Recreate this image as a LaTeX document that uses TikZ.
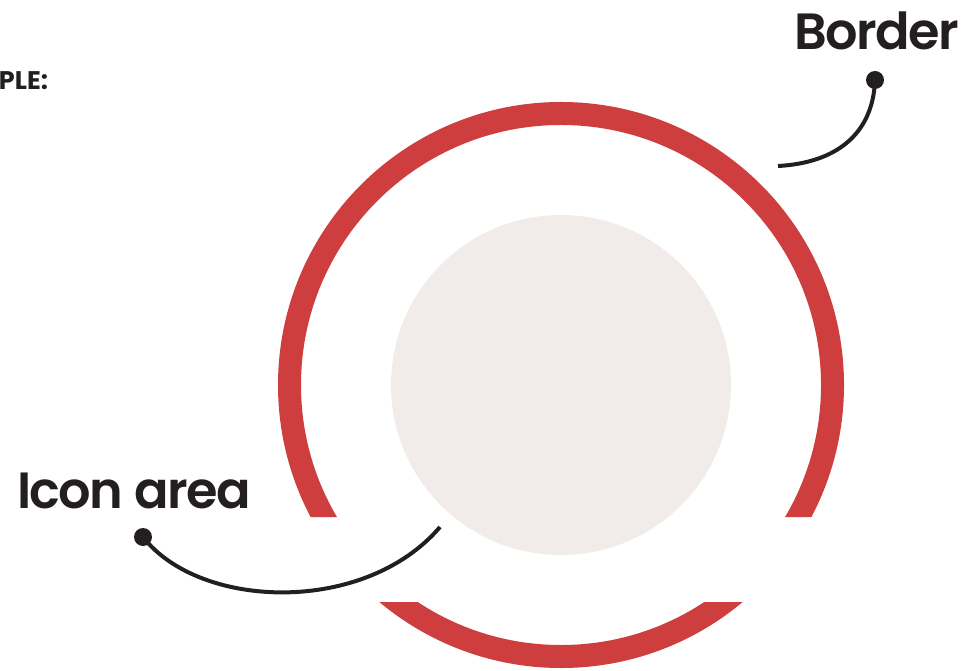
\documentclass[tikz,border=0pt]{standalone}
\usepackage{fontspec}
\setmainfont{Poppins}
\newfontfamily\labelfont[LetterSpace=-3]{Poppins SemiBold}
\usetikzlibrary{positioning}

\definecolor{ringred}{RGB}{206,62,62}
\definecolor{iconbg}{RGB}{241,236,234}
\definecolor{inkblack}{RGB}{35,31,32}

\begin{document}
\begin{tikzpicture}[
			x=0.2mm, y=-0.2mm,
			every node/.style={inner sep=0pt, outer sep=0pt},
			bigtext/.style={font=\labelfont\fontsize{29}{29}\selectfont, text=inkblack},
			smalltext/.style={font=\bfseries\fontsize{14.5}{14.5}\selectfont, text=inkblack},
			dot/.style={circle, fill=inkblack, minimum size=3.6mm},
			leader/.style={draw=inkblack, line width=0.8mm}
			]
			\useasboundingbox (0,0) rectangle (967,671);
			
			% -------- Icon area --------
			\node[circle, fill=iconbg, minimum size=68mm] (icon) at (561,385) {};
			
			% -------- Border ring (cut at the bottom) --------
			\begin{scope}
				\clip (0,0) rectangle (967,517) (0,602) rectangle (967,671);
				\draw[ringred, line width=4.6mm] (icon.center) circle [radius=54.3mm];
			\end{scope}
			
			% -------- Labels --------
			\node[smalltext, anchor=base west] (example) at (-1,90) {PLE:};
			\node[bigtext, anchor=base east] (border) at (959,50) {Border};
			\node[bigtext, anchor=base west] (iconlabel) at (17,508) {Icon area};
			
			% -------- Leaders --------
			\node[dot] (bdot) at (875,80) {};
			\coordinate (bend) at (778,166);
			\draw[leader] (bdot.center) .. controls (873,135) and (835,163) .. (bend);
			
			\node[dot] (idot) at (143,537) {};
			\coordinate (iend) at (440,527);
			\draw[leader] (idot.center) .. controls (200,610) and (365,615) .. (iend);
			
	\end{tikzpicture}
\end{document}
